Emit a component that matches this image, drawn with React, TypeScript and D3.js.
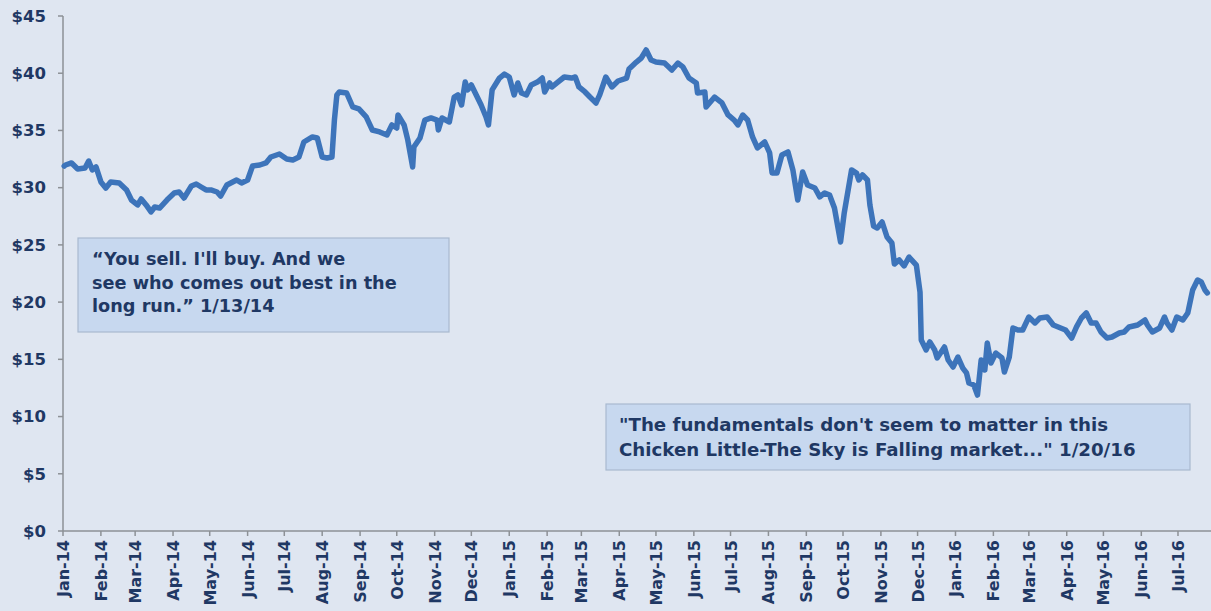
import React from "react";
import * as d3 from "d3";

const dates = ["2014-01-02","2014-01-03","2014-01-08","2014-01-13","2014-01-19","2014-01-22","2014-01-25","2014-01-28","2014-02-01","2014-02-05","2014-02-09","2014-02-16","2014-02-22","2014-02-26","2014-03-03","2014-03-06","2014-03-10","2014-03-14","2014-03-17","2014-03-21","2014-03-27","2014-04-02","2014-04-06","2014-04-10","2014-04-16","2014-04-20","2014-04-24","2014-04-28","2014-05-02","2014-05-07","2014-05-10","2014-05-15","2014-05-23","2014-05-27","2014-06-01","2014-06-05","2014-06-11","2014-06-16","2014-06-20","2014-06-27","2014-07-03","2014-07-08","2014-07-13","2014-07-17","2014-07-24","2014-07-28","2014-08-01","2014-08-05","2014-08-09","2014-08-11","2014-08-13","2014-08-15","2014-08-21","2014-08-26","2014-08-31","2014-09-06","2014-09-11","2014-09-17","2014-09-23","2014-09-27","2014-10-01","2014-10-02","2014-10-07","2014-10-10","2014-10-14","2014-10-15","2014-10-20","2014-10-24","2014-10-29","2014-11-03","2014-11-04","2014-11-07","2014-11-13","2014-11-17","2014-11-20","2014-11-23","2014-11-26","2014-11-28","2014-12-01","2014-12-05","2014-12-09","2014-12-13","2014-12-15","2014-12-18","2014-12-24","2014-12-28","2015-01-01","2015-01-05","2015-01-08","2015-01-11","2015-01-15","2015-01-19","2015-01-24","2015-01-28","2015-01-30","2015-02-03","2015-02-05","2015-02-09","2015-02-15","2015-02-21","2015-02-24","2015-02-27","2015-03-04","2015-03-08","2015-03-13","2015-03-16","2015-03-21","2015-03-26","2015-03-31","2015-04-07","2015-04-09","2015-04-15","2015-04-19","2015-04-23","2015-04-27","2015-05-01","2015-05-08","2015-05-14","2015-05-19","2015-05-23","2015-05-28","2015-06-03","2015-06-04","2015-06-10","2015-06-11","2015-06-18","2015-06-24","2015-06-29","2015-07-04","2015-07-07","2015-07-11","2015-07-15","2015-07-19","2015-07-23","2015-07-29","2015-08-02","2015-08-04","2015-08-08","2015-08-12","2015-08-17","2015-08-21","2015-08-25","2015-08-29","2015-09-02","2015-09-08","2015-09-12","2015-09-16","2015-09-20","2015-09-24","2015-09-29","2015-10-02","2015-10-08","2015-10-12","2015-10-14","2015-10-17","2015-10-21","2015-10-23","2015-10-26","2015-10-29","2015-11-02","2015-11-06","2015-11-10","2015-11-12","2015-11-16","2015-11-20","2015-11-24","2015-11-30","2015-12-03","2015-12-04","2015-12-08","2015-12-11","2015-12-15","2015-12-17","2015-12-23","2015-12-26","2015-12-30","2016-01-03","2016-01-07","2016-01-10","2016-01-12","2016-01-16","2016-01-19","2016-01-22","2016-01-25","2016-01-27","2016-01-30","2016-02-03","2016-02-08","2016-02-10","2016-02-14","2016-02-17","2016-02-21","2016-02-25","2016-03-01","2016-03-06","2016-03-10","2016-03-16","2016-03-21","2016-03-25","2016-03-31","2016-04-05","2016-04-09","2016-04-13","2016-04-17","2016-04-21","2016-04-25","2016-04-29","2016-05-04","2016-05-08","2016-05-14","2016-05-18","2016-05-22","2016-05-29","2016-06-04","2016-06-06","2016-06-10","2016-06-16","2016-06-20","2016-06-22","2016-06-26","2016-06-30","2016-07-05","2016-07-09","2016-07-13","2016-07-17","2016-07-20","2016-07-23","2016-07-25"];

const prices = [31.89,31.98,32.16,31.63,31.72,32.33,31.55,31.81,30.50,29.97,30.50,30.41,29.80,28.92,28.49,29.01,28.49,27.88,28.31,28.22,28.92,29.54,29.62,29.10,30.15,30.32,30.06,29.80,29.80,29.62,29.27,30.23,30.67,30.41,30.67,31.89,31.98,32.16,32.68,32.94,32.51,32.42,32.68,33.99,34.43,34.34,32.68,32.59,32.68,35.91,38.10,38.36,38.27,37.05,36.88,36.18,35.04,34.87,34.60,35.48,35.21,36.35,35.48,34.17,31.81,33.55,34.34,35.91,36.09,35.91,35.04,36.09,35.74,37.92,38.10,37.22,39.23,38.54,38.97,38.10,37.22,36.18,35.48,38.54,39.58,39.93,39.67,38.10,39.15,38.27,38.10,38.97,39.23,39.58,38.36,39.15,38.80,39.15,39.67,39.58,39.67,38.80,38.36,37.92,37.40,38.10,39.67,38.80,39.32,39.58,40.37,40.98,41.33,42.03,41.16,40.98,40.89,40.28,40.89,40.55,39.58,39.15,38.27,38.36,37.05,37.92,37.40,36.35,35.91,35.48,36.35,35.91,34.43,33.47,33.99,33.03,31.28,31.28,32.86,33.12,31.55,28.92,31.37,30.23,29.97,29.19,29.54,29.36,28.22,25.25,27.79,31.55,31.28,30.67,31.11,30.67,28.49,26.65,26.48,27.00,25.69,25.17,23.33,23.68,23.16,23.94,23.24,20.88,16.69,15.82,16.52,15.82,15.12,16.08,14.94,14.33,15.20,14.24,13.81,12.93,12.76,11.88,14.94,14.07,16.43,14.68,15.55,15.12,13.89,15.20,17.74,17.56,17.56,18.70,18.18,18.61,18.70,18.00,17.83,17.56,16.86,17.83,18.61,19.05,18.18,18.18,17.39,16.86,16.95,17.30,17.39,17.83,18.00,18.44,18.00,17.39,17.74,18.70,18.18,17.56,18.70,18.44,19.05,21.06,21.93,21.76,21.06,20.80];

const yTickValues = [0, 5, 10, 15, 20, 25, 30, 35, 40, 45];
const xStart = "2014-01-01";
const xEnd = "2016-07-28";
const monthTicksEnd = "2016-08-01";

const quote1Lines = ["\u201CYou sell. I'll buy. And we", "see who comes out best in the", "long run.\u201D 1/13/14"];
const quote2Lines = ["\"The fundamentals don't seem to matter in this", "Chicken Little-The Sky is Falling market...\" 1/20/16"];

const W = 1211;
const H = 611;
const BG = "#dfe6f1";
const NAVY = "#1f3864";
const LINE = "#3d74ba";
const AXIS = "#8d9196";
const FONT = "Tahoma, 'DejaVu Sans', Verdana, sans-serif";

export default function App() {
  const parse = d3.timeParse("%Y-%m-%d");
  const data = dates.map((d, i) => ({ date: parse(d) as Date, value: prices[i] }));
  const x = d3.scaleTime().domain([parse(xStart) as Date, parse(xEnd) as Date]).range([63, 1211]);
  const y = d3.scaleLinear().domain([0, 45]).range([531, 16]);
  const months = d3.timeMonth.range(parse(xStart) as Date, parse(monthTicksEnd) as Date);
  const fmt = d3.timeFormat("%b-%y");
  const line = d3
    .line<{ date: Date; value: number }>()
    .x((d) => x(d.date))
    .y((d) => y(d.value));

  const x0 = x.range()[0];
  const y0 = y(0);

  return (
    <svg
      width={W}
      height={H}
      style={{ position: "fixed", left: 0, top: 0, display: "block" }}
      fontFamily={FONT}
    >
      <rect x={0} y={0} width={W} height={H} fill={BG} />
      {/* Y axis */}
      <line x1={x0} x2={x0} y1={y(45)} y2={y0} stroke={AXIS} strokeWidth={1.5} />
      {yTickValues.map((v) => (
        <g key={v}>
          <line x1={x0 - 5} x2={x0} y1={y(v)} y2={y(v)} stroke={AXIS} strokeWidth={1.5} />
          <text
            x={46}
            y={y(v)}
            dy="0.35em"
            textAnchor="end"
            fontSize={16.5}
            fontWeight="bold"
            fill={NAVY}
          >
            {"$" + v}
          </text>
        </g>
      ))}
      {/* X axis */}
      <line x1={x0} x2={W} y1={y0} y2={y0} stroke={AXIS} strokeWidth={1.5} />
      {months.map((m) => (
        <g key={m.getTime()}>
          <line x1={x(m)} x2={x(m)} y1={y0} y2={y0 + 5} stroke={AXIS} strokeWidth={1.5} />
          <text
            transform={`translate(${x(m) + 6},${y0 + 9}) rotate(-90)`}
            textAnchor="end"
            fontSize={16}
            fontWeight="bold"
            fill={NAVY}
          >
            {fmt(m)}
          </text>
        </g>
      ))}
      {/* Price line */}
      <path
        d={line(data) || ""}
        fill="none"
        stroke={LINE}
        strokeWidth={5.5}
        strokeLinejoin="round"
        strokeLinecap="round"
      />
      {/* Annotation 1 */}
      <rect x={78} y={238} width={371} height={94} fill="#c7d8ef" stroke="#a9b9cf" strokeWidth={1.2} />
      {quote1Lines.map((t, i) => (
        <text key={i} x={92} y={265 + i * 23.5} fontSize={17.7} fontWeight="bold" fill={NAVY}>
          {t}
        </text>
      ))}
      {/* Annotation 2 */}
      <rect x={606} y={404} width={584} height={66} fill="#c7d8ef" stroke="#a9b9cf" strokeWidth={1.2} />
      {quote2Lines.map((t, i) => (
        <text key={i} x={619} y={431 + i * 25} fontSize={18.2} fontWeight="bold" fill={NAVY}>
          {t}
        </text>
      ))}
    </svg>
  );
}
